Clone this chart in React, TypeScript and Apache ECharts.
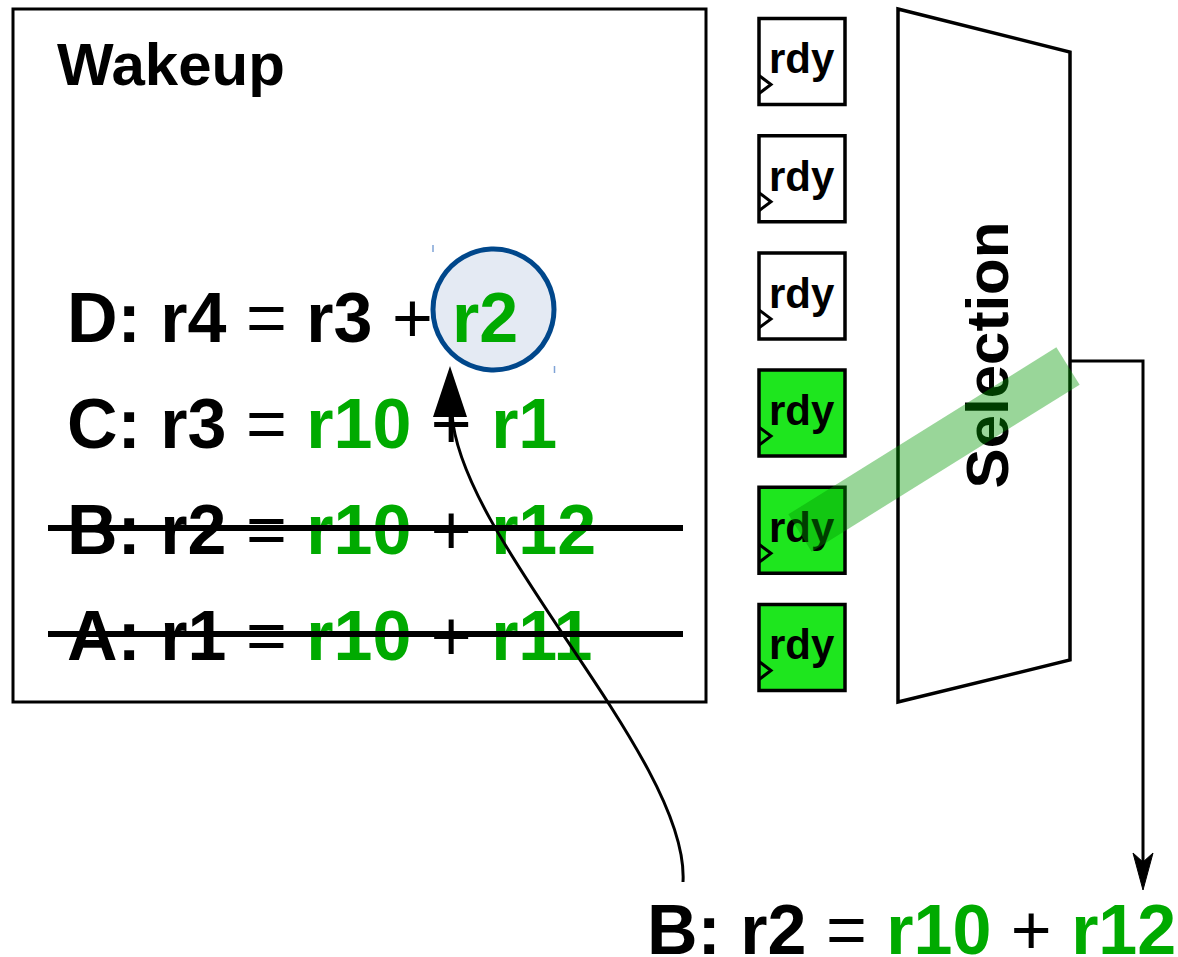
import React, { useEffect, useRef } from "react";
import * as echarts from "echarts";

// ---- content ----
const wakeupTitle = "Wakeup";
const selectionTitle = "Selection";
const rdyLabel = "rdy";

const instrLabels = ["D", "C", "B", "A"];
const instrDest = ["r4", "r3", "r2", "r1"];
const instrSrc1 = ["r3", "r10", "r10", "r10"];
const instrSrc2 = ["r2", "r1", "r12", "r11"];
const src1Ready = [false, true, true, true];
const src2Ready = [true, true, true, true];
const issued = [false, false, true, true];
const wokenSrc2 = [true, false, false, false];

const rdyStates = [false, false, false, true, true, true];

const selLabel = "B";
const selDest = "r2";
const selSrc1 = "r10";
const selSrc2 = "r12";

// ---- styling ----
const FF = "'Liberation Sans', Arial, Helvetica, sans-serif";
const GREEN_TXT = "#00AA00";
const GREEN_BOX = "#1EE61E";
const FS = 70;

function rich() {
  return {
    k: { fontSize: FS, fontWeight: "bold", fontFamily: FF, fill: "#000", lineHeight: 56 },
    g: { fontSize: FS, fontWeight: "bold", fontFamily: FF, fill: GREEN_TXT, lineHeight: 56 },
    o: { fontSize: FS, fontWeight: "normal", fontFamily: FF, fill: "#000", lineHeight: 56 },
  };
}

function instrText(label: string, dst: string, s1: string, s2: string, r1: boolean, r2: boolean, hideS2: boolean) {
  let t = `{k|${label}: ${dst} }{o|=}{k| }`;
  t += r1 ? `{g|${s1}}` : `{k|${s1}}`;
  t += `{k| }{o|+}{k| }`;
  if (!hideS2) t += r2 ? `{g|${s2}}` : `{k|${s2}}`;
  return t;
}

export default function App() {
  const ref = useRef<HTMLDivElement>(null);
  useEffect(() => {
    const chart = echarts.init(ref.current!, null, { renderer: "svg" });
    const els: any[] = [];
    let z = 1;

    // Wakeup box
    els.push({
      type: "rect", z: z++,
      shape: { x: 13, y: 9, width: 693, height: 693 },
      style: { fill: "#fff", stroke: "#000", lineWidth: 3 },
    });
    els.push({
      type: "text", z: z++, x: 57, y: 85 - 60 * 0.3465,
      style: { text: wakeupTitle, fontSize: 60, fontWeight: "bold", fontFamily: FF, fill: "#000", textAlign: "left", textVerticalAlign: "middle" },
    });

    // instruction lines
    const baseTop = 342;
    const lineStep = 106;
    const centralOff = FS * 0.3465;
    instrLabels.forEach((lab, i) => {
      const baseline = baseTop + i * lineStep;
      els.push({
        type: "text", z: z++, x: 67, y: baseline - centralOff,
        style: {
          text: instrText(lab, instrDest[i], instrSrc1[i], instrSrc2[i], src1Ready[i], src2Ready[i], wokenSrc2[i]),
          rich: rich(), textAlign: "left", textVerticalAlign: "middle",
        },
      });
      if (wokenSrc2[i]) {
        els.push({
          type: "circle", z: z++,
          shape: { cx: 493.5, cy: baseline - 32.5, r: 60.5 },
          style: { fill: "#E4EAF3", stroke: "#00478B", lineWidth: 5 },
        });
        els.push({
          type: "text", z: z++, x: 452, y: baseline - centralOff,
          style: { text: instrSrc2[i], fontSize: FS, fontWeight: "bold", fontFamily: FF, fill: src2Ready[i] ? GREEN_TXT : "#000", textAlign: "left", textVerticalAlign: "middle" },
        });
        els.push({ type: "line", z: z++, shape: { x1: 433, y1: 245, x2: 433, y2: 252 }, style: { stroke: "#7FA3D6", lineWidth: 1.5 } });
        els.push({ type: "line", z: z++, shape: { x1: 554.5, y1: 366, x2: 554.5, y2: 373 }, style: { stroke: "#7FA3D6", lineWidth: 1.5 } });
      }
      if (issued[i]) {
        const sy = baseline - 26;
        els.push({
          type: "line", z: z++,
          shape: { x1: 48, y1: sy, x2: 683, y2: sy },
          style: { stroke: "#000", lineWidth: 6 },
        });
      }
    });

    // rdy boxes
    const boxTop = 18.5;
    const boxStep = 117.2;
    rdyStates.forEach((on, i) => {
      const y = boxTop + i * boxStep;
      els.push({
        type: "rect", z: z++,
        shape: { x: 759, y, width: 86, height: 86 },
        style: { fill: on ? GREEN_BOX : "#fff", stroke: "#000", lineWidth: 3.5 },
      });
      els.push({
        type: "polyline", z: z++,
        shape: { points: [[759, y + 57], [771, y + 66], [759, y + 75]] },
        style: { stroke: "#000", lineWidth: 3, fill: "none" },
      });
      els.push({
        type: "text", z: z++, x: 769, y: y + 55 - 42 * 0.3465,
        style: { text: rdyLabel, fontSize: 42, fontWeight: "bold", fontFamily: FF, fill: "#000", textAlign: "left", textVerticalAlign: "middle" },
      });
    });

    // Selection trapezoid
    els.push({
      type: "polygon", z: z++,
      shape: { points: [[898, 9], [1070, 52], [1070, 660], [898, 702]] },
      style: { fill: "#fff", stroke: "#000", lineWidth: 3.5 },
    });
    els.push({
      type: "text", z: z++, x: 987, y: 355, rotation: Math.PI / 2,
      style: { text: selectionTitle, fontSize: 60, fontWeight: "bold", fontFamily: FF, fill: "#000", textAlign: "center", textVerticalAlign: "middle" },
    });

    // output arrow
    els.push({
      type: "polyline", z: z++,
      shape: { points: [[1070, 361], [1143, 361], [1143, 866]] },
      style: { stroke: "#000", lineWidth: 3, fill: "none" },
    });
    els.push({
      type: "polygon", z: z++,
      shape: { points: [[1143, 890], [1133, 853], [1143, 862], [1153, 853]] },
      style: { fill: "#000", stroke: "#000", lineWidth: 1 },
    });

    // selected green band
    const p1 = [800, 533], p2 = [1068, 366];
    const dx = p2[0] - p1[0], dy = p2[1] - p1[1];
    const len = Math.hypot(dx, dy);
    const nx = -dy / len, ny = dx / len;
    const hw = 22;
    els.push({
      type: "polygon", z: z++,
      shape: {
        points: [
          [p1[0] + nx * hw, p1[1] + ny * hw],
          [p2[0] + nx * hw, p2[1] + ny * hw],
          [p2[0] - nx * hw, p2[1] - ny * hw],
          [p1[0] - nx * hw, p1[1] - ny * hw],
        ],
      },
      style: { fill: "rgba(0,152,0,0.4)" },
    });

    // broadcast arrow (curve)
    els.push({
      type: "bezierCurve", z: z++,
      shape: { x1: 683, y1: 882, cpx1: 690, cpy1: 760, cpx2: 460, cpy2: 540, x2: 452, y2: 414 },
      style: { stroke: "#000", lineWidth: 3, fill: "none" },
    });
    els.push({
      type: "polygon", z: z++,
      shape: { points: [[450, 366], [467, 417], [433, 417]] },
      style: { fill: "#000" },
    });

    // selected instruction
    els.push({
      type: "text", z: z++, x: 647, y: 954 - centralOff,
      style: {
        text: instrText(selLabel, selDest, selSrc1, selSrc2, true, true, false),
        rich: rich(), textAlign: "left", textVerticalAlign: "middle",
      },
    });

    chart.setOption({ animation: false, graphic: { elements: els } });
    return () => chart.dispose();
  }, []);
  return (
    <div
      ref={ref}
      style={{ position: "absolute", left: 0, top: 0, width: 1178, height: 957, background: "#fff" }}
    />
  );
}
